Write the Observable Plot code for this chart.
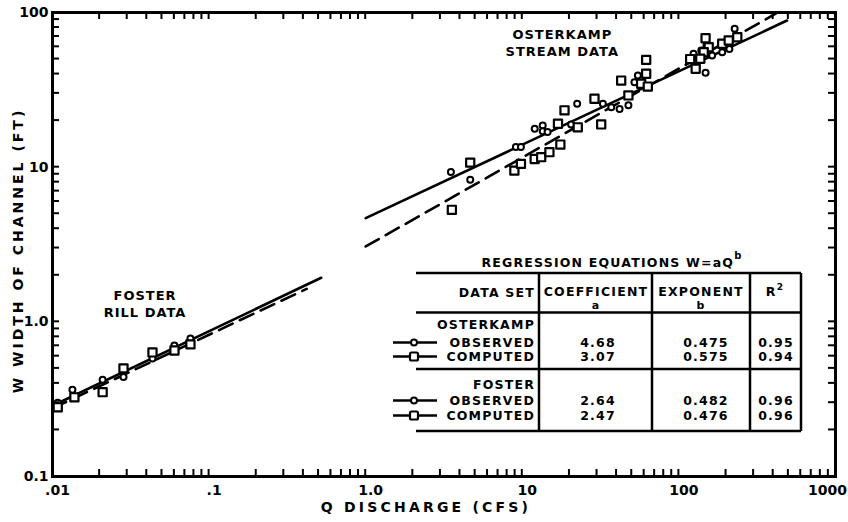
<!DOCTYPE html>
<html><head><meta charset="utf-8">
<script src="https://cdn.jsdelivr.net/npm/d3@7"></script>
<script src="https://cdn.jsdelivr.net/npm/@observablehq/plot@0.6"></script>
<style>
body{margin:0;background:#fff;}
#chart{width:848px;height:522px;}
</style></head><body><div id="chart"></div>
<script>
// ---- data ----
const fosterObsQ = [0.0108, 0.0134, 0.0209, 0.0284, 0.0435, 0.060, 0.076];
const fosterObsW = [0.30, 0.364, 0.422, 0.44, 0.58, 0.704, 0.781];
const fosterCompQ = [0.0108, 0.0138, 0.0209, 0.0284, 0.0435, 0.0601, 0.076];
const fosterCompW = [0.28, 0.325, 0.351, 0.50, 0.634, 0.653, 0.715];

const osterObsQ = [3.5, 4.65, 9.1, 9.8, 12.0, 13.5, 13.5, 14.5, 20.5, 22.4, 32.7, 37.0, 41.8, 47.6, 52.0, 54.7, 57.4, 124, 139, 148, 163, 189, 210, 233, 227, 150];
const osterObsW = [9.3, 8.3, 13.5, 13.5, 17.7, 18.6, 17.1, 16.9, 18.9, 25.7, 25.7, 24.4, 23.8, 25.1, 35.4, 39.2, 34.6, 54.1, 56.8, 40.8, 52.7, 55.4, 58.0, 69.0, 78.5, 61.2];
const osterCompQ = [3.55, 4.65, 8.9, 9.8, 12.0, 13.2, 14.9, 17.5, 18.6, 16.9, 22.6, 28.9, 31.9, 47.6, 42.8, 61.8, 61.8, 57.4, 63.3, 148, 155, 144, 137, 128, 189, 208, 236, 118];
const osterCompW = [5.3, 10.7, 9.5, 10.5, 11.3, 11.6, 12.5, 14.0, 23.3, 19.1, 18.1, 27.7, 18.9, 29.1, 36.3, 49.4, 40.2, 34.6, 33.2, 68.2, 59.7, 55.4, 50.2, 43.3, 62.8, 65.9, 69.2, 50.0];

// regression table
const tableSets = ["OSTERKAMP", "FOSTER"];
const tableRows = ["OBSERVED", "COMPUTED"];
const coefA = ["4.68", "3.07", "2.64", "2.47"];
const expB = ["0.475", "0.575", "0.482", "0.476"];
const rSq = ["0.95", "0.94", "0.96", "0.96"];
// extent of each drawn regression line (Q range)
const lineQStart = [1, 1, 0.01, 0.01];
const lineQEnd = [490, 420, 0.52, 0.42];

const xTicks = [0.01, 0.1, 1, 10, 100, 1000];
const xTickLabels = [".01", ".1", "1.0", "10", "100", "1000"];
const yTicks = [0.1, 1, 10, 100];
const yTickLabels = ["0.1", "1.0", "10", "100"];

const xLabel = "Q DISCHARGE (CFS)";
const yLabel = "W WIDTH OF CHANNEL (FT)";
const notes = [
  {q: 18, w: 64, text: "OSTERKAMP\nSTREAM DATA"},
  {q: 0.039, w: 1.32, text: "FOSTER\nRILL DATA"}
];

// ---- build tables ----
function minorTicks(lo, hi) {
  const out = [];
  for (let e = Math.round(Math.log10(lo)); e < Math.round(Math.log10(hi)); e++)
    for (let k = 1; k < 10; k++) out.push(+(k * Math.pow(10, e)).toPrecision(6));
  out.push(hi);
  return out;
}
const minorX = minorTicks(0.01, 1000);
const minorY = minorTicks(0.1, 100);

const zip = (Q, V) => Q.map((q, i) => ({q, w: V[i]}));
const obsPts = zip(fosterObsQ, fosterObsW).concat(zip(osterObsQ, osterObsW));
const compPts = zip(fosterCompQ, fosterCompW).concat(zip(osterCompQ, osterCompW));

const lineRows = [];
coefA.forEach((a, i) => {
  const b = +expB[i];
  [lineQStart[i], lineQEnd[i]].forEach(q => lineRows.push({id: i, kind: i % 2, q, w: +a * Math.pow(q, b)}));
});

const PW = 848, PH = 522, ML = 52, MR = 13, MT = 12, MB = 46, TS = 7;
const xLab = d => xTickLabels[xTicks.indexOf(d)];
const yLab = d => yTickLabels[yTicks.indexOf(d)];
const FONT = "'DejaVu Sans', sans-serif";
const plot = Plot.plot({
  width: PW, height: PH,
  marginLeft: ML, marginRight: MR, marginTop: MT, marginBottom: MB,
  style: `font-family:${FONT};font-weight:bold;font-size:14px;color:#000;background:#fff;overflow:visible;`,
  x: {type: "log", domain: [0.01, 1000]},
  y: {type: "log", domain: [0.1, 100]},
  marks: [
    Plot.axisX({ticks: xTicks.slice(0, 5), tickSize: 0, tickPadding: 9, dx: 5, tickFormat: xLab, label: null, fontSize: 14}),
    Plot.axisX({ticks: xTicks.slice(5), tickSize: 0, tickPadding: 9, dx: -8, tickFormat: xLab, label: null, fontSize: 14}),
    Plot.axisY({ticks: yTicks, tickSize: 0, tickPadding: 4, tickFormat: yLab, label: null, fontSize: 14}),
    Plot.frame({strokeWidth: 3, stroke: "#000"}),
    Plot.line(lineRows.filter(d => d.kind === 0), {x: "q", y: "w", z: "id", stroke: "#000", strokeWidth: 2.6}),
    Plot.line(lineRows.filter(d => d.kind === 1), {x: "q", y: "w", z: "id", stroke: "#000", strokeWidth: 2.6, strokeDasharray: "15,8"}),
    Plot.dot(obsPts, {x: "q", y: "w", r: 3, stroke: "#000", strokeWidth: 2, fill: "#fff"}),
    Plot.dot(compPts, {x: "q", y: "w", symbol: "square", r: 4.6, stroke: "#000", strokeWidth: 2.2, fill: "#fff", strokeLinejoin: "round"}),
    Plot.text(notes, {x: "q", y: "w", text: "text", fontSize: 13, fontWeight: "bold", lineHeight: 1.3}),
    Plot.text([xLabel], {frameAnchor: "bottom", dy: 35, dx: -18, fontSize: 14, fontWeight: "bold"}),
    Plot.text([yLabel], {frameAnchor: "left", textAnchor: "middle", rotate: -90, dx: -34, dy: 6, fontSize: 14, fontWeight: "bold"})
  ]
});
document.getElementById("chart").appendChild(plot);

const svg = d3.select(plot);
const spacing = {[xLabel]: "3.2px", [yLabel]: "3px", "OSTERKAMP": "1px", "STREAM DATA": "1px", "FOSTER": "1px", "RILL DATA": "1px"};
svg.selectAll("text, tspan").each(function () {
  const s = spacing[this.textContent];
  if (s) this.style.letterSpacing = s;
});

// ---- regression table (annotation) ----
const g = svg.append("g").attr("font-family", FONT).attr("font-weight", "bold")
  .attr("font-size", 12.5).style("letter-spacing", "1.2px").attr("fill", "#000");
const L = 416, R = 801, vx = [539, 652, 750, R], hy = [273, 312.5, 369, 431];
hy.forEach(y => g.append("line").attr("x1", L).attr("x2", R).attr("y1", y).attr("y2", y)
  .attr("stroke", "#000").attr("stroke-width", 2.5));
vx.forEach(x => g.append("line").attr("x1", x).attr("x2", x).attr("y1", hy[0]).attr("y2", hy[3])
  .attr("stroke", "#000").attr("stroke-width", 2.5));

const title = g.append("text").attr("x", 612).attr("y", 267).attr("text-anchor", "middle").text("REGRESSION EQUATIONS W=aQ");
title.append("tspan").attr("dy", -8).attr("font-size", 10).text("b");

const txt = (x, y, s, anchor = "middle", size) => {
  const t = g.append("text").attr("x", x).attr("y", y).attr("text-anchor", anchor).text(s);
  if (size) t.attr("font-size", size);
  return t;
};
txt(535, 297, "DATA SET", "end");
txt(596, 296, "COEFFICIENT");
txt(596, 309, "a", "middle", 11);
txt(701, 296, "EXPONENT");
txt(701, 309, "b", "middle", 11);
const r2 = txt(775, 296, "R");
r2.append("tspan").attr("dy", -6).attr("font-size", 9).text("2");

const groupTop = [329, 389];
const rowY = [[347, 361], [405, 420]];
tableSets.forEach((s, gi) => {
  txt(535, groupTop[gi], s, "end");
  tableRows.forEach((r, ri) => {
    const k = gi * 2 + ri, y = rowY[gi][ri];
    txt(535, y, r, "end");
    txt(598, y, coefA[k]);
    txt(706, y, expB[k]);
    txt(776, y, rSq[k]);
    const cy = y - 4.5;
    g.append("line").attr("x1", 393).attr("x2", 437).attr("y1", cy).attr("y2", cy)
      .attr("stroke", "#000").attr("stroke-width", 2.4);
    if (ri === 0) g.append("circle").attr("cx", 414).attr("cy", cy).attr("r", 3)
      .attr("fill", "#fff").attr("stroke", "#000").attr("stroke-width", 2);
    else g.append("rect").attr("x", 410).attr("y", cy - 4).attr("width", 8).attr("height", 8).attr("rx", 1.5)
      .attr("fill", "#fff").attr("stroke", "#000").attr("stroke-width", 2.2);
  });
});

// ---- inward minor ticks on all four sides, placed with Plot's own scales (drawn last, on top) ----
const sx = plot.scale("x"), sy = plot.scale("y");
const x0 = ML, x1 = PW - MR, y0 = MT, y1 = PH - MB;
const tk = svg.append("g").attr("fill", "none");
const tick = (xa, ya, xb, yb) => tk.append("path")
  .attr("d", `M${xa},${ya}L${xb},${yb}`).attr("stroke", "black").attr("stroke-width", 2);
minorX.forEach(v => {
  const x = sx.apply(v);
  tick(x, y1, x, y1 - TS);
  tick(x, y0, x, y0 + TS);
});
minorY.forEach(v => {
  const y = sy.apply(v);
  tick(x0, y, x0 + TS, y);
  tick(x1, y, x1 - TS, y);
});
</script></body></html>
